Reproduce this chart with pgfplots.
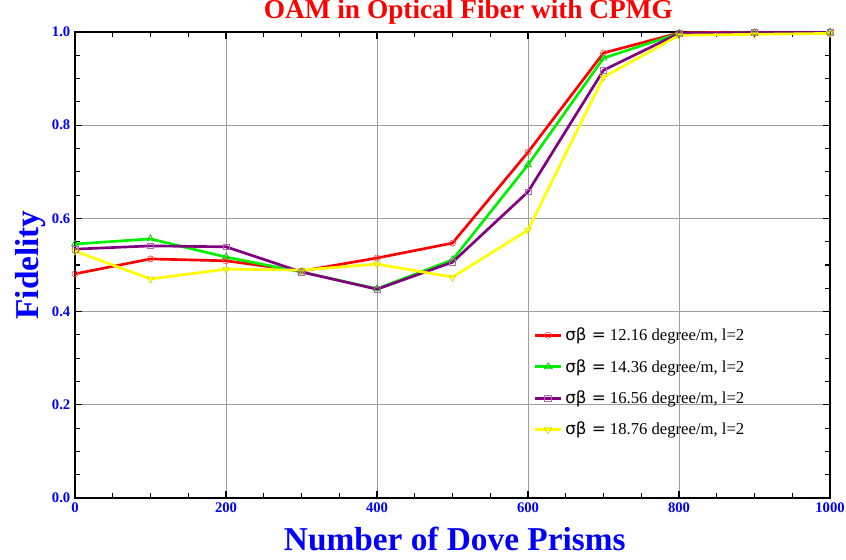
\documentclass[border=0pt]{standalone}
\usepackage{fontspec}
\setmainfont{Liberation Serif}
\newfontfamily\dv{DejaVu Sans}
\usepackage{pgfplots}
\pgfplotsset{compat=1.18}
\definecolor{myred}{RGB}{255,0,0}
\definecolor{mygreen}{RGB}{0,240,0}
\definecolor{mypurple}{RGB}{128,0,128}
\definecolor{myyellow}{RGB}{255,255,0}
\begin{document}
\begin{tikzpicture}
\begin{axis}[
  scale only axis,
  width=566.25pt, height=349.5pt,
  xmin=0, xmax=1000, ymin=0, ymax=1,
  xtick={0,200,...,1000}, ytick={0,0.2,...,1.0},
  minor tick num=3,
  grid=major,
  major grid style={gray!75, line width=0.6pt},
  axis line style={black, line width=1.4pt},
  tick style={black, line width=0.8pt},
  major tick length=5pt, minor tick length=4pt,
  /pgf/number format/assume math mode=true,
  /pgf/number format/1000 sep={},
  ticklabel style={font=\bfseries\fontsize{11}{13}\selectfont, text=blue},
  yticklabel={\pgfmathprintnumber[fixed,fixed zerofill,precision=1]{\tick}},
  xticklabel={\pgfmathprintnumber[fixed,precision=0,1000 sep={}]{\tick}},
  title={OAM in Optical Fiber with CPMG},
  title style={font=\bfseries\fontsize{20.5}{24}\selectfont, text=myred, at={(axis description cs:0.521,1.0115)}, anchor=base},
  xlabel={Number of Dove Prisms},
  xlabel style={font=\bfseries\fontsize{25}{30}\selectfont, text=blue, at={(axis description cs:0.503,-0.1116)}, anchor=base},
  ylabel={Fidelity},
  ylabel style={font=\bfseries\fontsize{25}{30}\selectfont, text=blue, at={(axis description cs:-0.049,0.5)}, anchor=base, rotate=0},
  legend style={draw=none, fill=none, at={(rel axis cs:0.602,0.377)}, anchor=north west,
    font=\fontsize{12.5}{14}\selectfont, row sep=8.5pt,
    /tikz/every even column/.append style={column sep=5pt}},
  legend cell align=left,
  legend image post style={xscale=1.15},
  every axis plot/.append style={line width=2pt},
]
\addplot[color=myred, mark=o, mark size=2.3pt, mark options={solid, line width=0.5pt, fill=none, draw=myred!70}] coordinates {
(0,0.481) (100,0.513) (200,0.509) (300,0.487) (400,0.515) (500,0.547) (600,0.742) (700,0.955) (800,0.998) (900,1.0) (1000,1.0)};
\addlegendentry{{\dv σβ =} 12.16 degree/m, l=2}
\addplot[color=mygreen, mark=triangle, mark size=3pt, mark options={solid, line width=0.5pt, fill=none, draw=mygreen!80!black}] coordinates {
(0,0.545) (100,0.556) (200,0.517) (300,0.485) (400,0.449) (500,0.511) (600,0.715) (700,0.944) (800,0.997) (900,0.998) (1000,1.0)};
\addlegendentry{{\dv σβ =} 14.36 degree/m, l=2}
\addplot[color=mypurple, mark=square, mark size=2.2pt, mark options={solid, line width=0.5pt, fill=none, draw=mypurple!60}] coordinates {
(0,0.534) (100,0.541) (200,0.539) (300,0.485) (400,0.448) (500,0.506) (600,0.657) (700,0.918) (800,0.997) (900,0.999) (1000,1.0)};
\addlegendentry{{\dv σβ =} 16.56 degree/m, l=2}
\addplot[color=myyellow, mark=triangle, mark size=3pt, mark options={solid, line width=0.5pt, fill=none, draw=myyellow!85!black, rotate=180}] coordinates {
(0,0.530) (100,0.470) (200,0.491) (300,0.489) (400,0.502) (500,0.474) (600,0.575) (700,0.903) (800,0.993) (900,0.995) (1000,0.997)};
\addlegendentry{{\dv σβ =} 18.76 degree/m, l=2}
\coordinate (bl) at (rel axis cs:0,0);
\coordinate (tr) at (rel axis cs:1,1);
\end{axis}
\pgfresetboundingbox
\path[use as bounding box] ([shift={(-56.25pt,-46.5pt)}]bl) rectangle ([shift={(12pt,24pt)}]tr);
\end{tikzpicture}
\end{document}
